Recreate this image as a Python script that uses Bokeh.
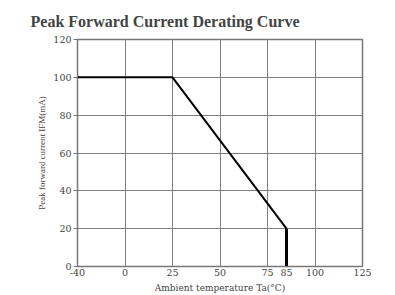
from bokeh.plotting import figure
from bokeh.models import FixedTicker, Range1d
from bokeh.embed import file_html
from bokeh.resources import INLINE

# Data
temps = [-40, 25, 85, 85]
current = [100, 100, 20, 0]
x_tick_values = [-40, 0, 25, 50, 75, 85, 100, 125]
y_tick_values = [0, 20, 40, 60, 80, 100, 120]
grid_x_values = [0, 25, 50, 75, 100]

def xmap(t):
    # axis is compressed below 0 (-40..0 drawn as wide as 25 units)
    return t * 25.0 / 40.0 if t < 0 else float(t)

xs = [xmap(t) for t in temps]
serif = "Liberation Serif"
wide_serif = "DejaVu Serif"

p = figure(width=395, height=295, output_backend="svg", toolbar_location=None,
           x_range=Range1d(xmap(-40), 125), y_range=Range1d(0, 120),
           min_border_left=77, min_border_right=33, min_border_top=10, min_border_bottom=4)

p.title.text = "Peak Forward Current Derating Curve"
p.title.text_font = serif
p.title.text_font_size = "16px"
p.title.text_font_style = "bold"
p.title.align = "left"
p.title.offset = -47
p.title.standoff = 20

p.xaxis.ticker = FixedTicker(ticks=[xmap(t) for t in x_tick_values])
p.xaxis.major_label_overrides = {xmap(t): str(t) for t in x_tick_values}
p.yaxis.ticker = FixedTicker(ticks=y_tick_values)

p.xaxis.axis_label = "Ambient temperature Ta(\u00b0C)"
p.yaxis.axis_label = "Peak forward current IFM(mA)"
for ax in (p.xaxis[0], p.yaxis[0]):
    ax.axis_label_text_font_style = "normal"
    ax.major_label_text_font = wide_serif
    ax.major_label_text_font_size = "9.5px"
    ax.axis_line_color = "#777777"
    ax.minor_tick_line_color = None
    ax.major_tick_line_color = "#777777"
    ax.major_tick_in = 0
p.xaxis.axis_label_text_font = wide_serif
p.xaxis.axis_label_text_font_size = "9px"
p.yaxis.axis_label_text_font = serif
p.yaxis.axis_label_text_font_size = "9px"
p.xaxis.major_tick_out = 0
p.yaxis.major_tick_out = 4
p.xaxis.major_label_standoff = 2
p.yaxis.major_label_standoff = 2
p.xaxis.axis_label_standoff = 4
p.yaxis.axis_label_standoff = 3

p.xgrid.ticker = FixedTicker(ticks=grid_x_values)
p.ygrid.ticker = FixedTicker(ticks=y_tick_values)
p.grid.grid_line_color = "#808080"
p.grid.grid_line_width = 1
p.outline_line_color = "#777777"
p.outline_line_width = 1.5

p.line(xs[:3], current[:3], line_color="black", line_width=2)
p.line(xs[2:], current[2:], line_color="black", line_width=3)

open("out.html", "w").write(file_html(p, INLINE))
